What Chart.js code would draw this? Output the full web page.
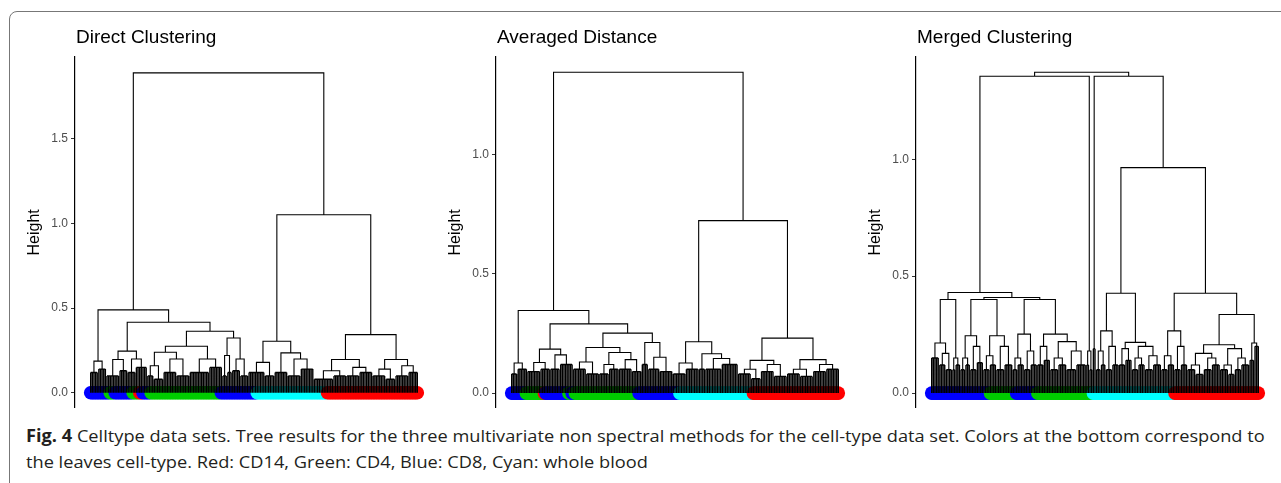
<!DOCTYPE html>
<html>
<head>
<meta charset="utf-8">
<script src="https://cdn.jsdelivr.net/npm/chart.js@4.4.1/dist/chart.umd.min.js"></script>
<style>
  body { margin:0; background:#fff; width:1281px; height:483px; overflow:hidden; position:relative; }
  #frame { position:absolute; left:9px; top:11px; width:1400px; height:600px; border:1px solid #777; border-radius:8px; }
  canvas { position:absolute; top:0; }
  .cap { position:absolute; left:26px; font-family:"Open Sans", sans-serif; font-size:17px; line-height:17px; color:#231f20; white-space:nowrap; transform-origin:0 0; }
</style>
</head>
<body>
<div id="frame"></div>
<canvas id="c1" width="417" height="418" style="left:15px"></canvas>
<canvas id="c2" width="417" height="418" style="left:436px"></canvas>
<canvas id="c3" width="417" height="418" style="left:856px"></canvas>
<div class="cap" id="cap1" style="top:427px"><b>Fig. 4</b> Celltype data sets. Tree results for the three multivariate non spectral methods for the cell-type data set. Colors at the bottom correspond to</div>
<div class="cap" id="cap2" style="top:453px">the leaves cell-type. Red: CD14, Green: CD4, Blue: CD8, Cyan: whole blood</div>
<script>
// trees: [height, left, right] is a merge, [height, n] is a small cluster of n leaves
let directTree = [1.89,
  [0.49,
    [0.187, [0.12,5], [0.14,5]],
    [0.417,
      [0.246, [0.197,[0.1,8],[0.13,5]], [0.2,[0.12,5],[0.15,7]]],
      [0.364,
        [0.275, [0.24,[0.16,[0.1,4],[0.08,6]],[0.2,[0.12,8],[0.1,8]]], [0.2,[0.12,12],[0.15,8]]],
        [0.324, [0.22,[0.1,3],[0.12,3]], [0.2,[0.13,5],[0.1,5]]]]]],
  [1.052,
    [0.305, [0.18,[0.12,10],[0.1,6]], [0.236,[0.12,8],[0.2,[0.1,8],[0.14,8]]]],
    [0.344,
      [0.197, [0.13,[0.08,12],[0.1,8]], [0.15,[0.1,8],[0.12,8]]],
      [0.197, [0.14,[0.1,8],[0.08,6]], [0.16,[0.1,8],[0.12,6]]]]]]

let averagedTree = [1.343,
  [0.346,
    [0.126, [0.08,4], [0.1,6]],
    [0.29,
      [0.184, [0.128,[0.09,8],[0.1,6]], [0.16,[0.1,6],[0.12,8]]],
      [0.251,
        [0.191, [0.13,[0.1,8],[0.08,8]], [0.17,[0.12,[0.08,6],[0.1,6]],[0.14,[0.1,8],[0.09,6]]]],
        [0.212, [0.12,4], [0.15,[0.1,7],[0.09,8]]]]]],
  [0.722,
    [0.215, [0.126,[0.08,8],[0.1,8]], [0.165,[0.1,4],[0.145,[0.1,10],[0.12,10]]]],
    [0.23,
      [0.137, [0.1,[0.08,8],[0.06,6]], [0.12,[0.09,8],[0.07,8]]],
      [0.14, [0.1,[0.08,8],[0.07,8]], [0.12,[0.09,8],[0.1,8]]]]]]

let mergedTree = [1.372,
  [1.355,
    [0.43,
      [0.40, [0.214,[0.15,5],[0.17,[0.12,4],[0.1,4]]], [0.15,[0.1,2],[0.12,3]]],
      [0.409,
        [0.40, [0.245,[0.15,[0.1,3],[0.12,3]],[0.2,[0.1,4],[0.13,4]]], [0.245,[0.16,[0.1,4],[0.12,4]],[0.2,[0.1,5],[0.12,5]]]],
        [0.40, [0.252,[0.15,[0.1,3],[0.12,4]],[0.18,[0.1,4],[0.12,4]]],
               [0.252,[0.2,[0.12,4],[0.14,4]],[0.22,[0.15,[0.1,5],[0.12,5]],[0.18,[0.1,6],[0.12,6]]]]]]],
    [0.18, [0.12,2], [0.1,2]]],
  [1.355,
    [0.19, 2],
    [0.964,
      [0.427, [0.266,[0.18,[0.1,3],[0.12,3]],[0.2,[0.1,4],[0.12,4]]],
              [0.217,[0.19,[0.12,4],[0.14,4]],[0.2,[0.15,[0.1,4],[0.12,4]],[0.16,[0.1,5],[0.12,5]]]]],
      [0.427, [0.266,[0.16,[0.1,4],[0.12,4]],[0.2,[0.1,4],[0.12,4]]],
              [0.336, [0.207,[0.17,[0.12,[0.1,5],[0.08,5]],[0.15,[0.1,5],[0.12,5]]],[0.19,[0.12,[0.1,5],[0.08,4]],[0.15,[0.1,4],[0.12,5]]]],
                      [0.214,[0.14,3],[0.2,3]]]]]]]

// leaf colours left to right, as runs
let directColors = [["blue",12],["green",3],["blue",11],["green",4],["red",2],["blue",5],["green",43],["blue",22],["cyan",43],["red",56]]
let averagedColors = [["blue",9],["green",11],["red",1],["blue",14],["green",2],["blue",2],["green",39],["blue",25],["cyan",45],["red",53]]
let mergedColors = [["blue",36],["green",16],["blue",13],["green",34],["cyan",50],["red",52]]

let directTicks = [0, 0.5, 1.0, 1.5]
let averagedTicks = [0, 0.5, 1.0]
let mergedTicks = [0, 0.5, 1.0]

let titles = ["Direct Clustering", "Averaged Distance", "Merged Clustering"]

let palette = { blue: "#0000ff", green: "#00cd00", red: "#ff0000", cyan: "#00ffff" }

Chart.defaults.font.family = '"Liberation Sans", Arial, sans-serif'

//walks the tree, puts the elbow lines in segs and returns the node position
function layout(node, state, segs){
  if(typeof node[1] === "number"){
    let h = node[0], n = node[1]
    let first = state.next
    for(let i = 0; i < n; i++){
      let x = state.next++
      segs.leaf.push({x:x, y:0}, {x:x, y:h}, {x:x, y:null})
    }
    let last = state.next - 1
    if(n > 1) segs.leaf.push({x:first, y:h}, {x:last, y:h}, {x:last, y:null})
    return {x:(first + last) / 2, h:h}
  }
  let a = layout(node[1], state, segs)
  let b = layout(node[2], state, segs)
  segs.tree.push({x:a.x, y:a.h}, {x:a.x, y:node[0]}, {x:b.x, y:node[0]}, {x:b.x, y:b.h}, {x:b.x, y:null})
  return {x:(a.x + b.x) / 2, h:node[0]}
}

let panelTitle = {
  id: "panelTitle",
  afterDraw(chart, args, opts){
    let ctx = chart.ctx
    ctx.save()
    ctx.font = '19px "Liberation Sans", Arial, sans-serif'
    ctx.fillStyle = "#000"
    ctx.textBaseline = "alphabetic"
    ctx.fillText(opts.text, chart.chartArea.left + 1, 43)
    ctx.restore()
  }
}

function drawPanel(id, tree, colors, ticks, title, ymin, ymax){
  let segs = {leaf: [], tree: []}
  layout(tree, {next:0}, segs)
  let leaves = [], cols = []
  let i = 0
  colors.forEach(run => {
    for(let k = 0; k < run[1]; k++){
      leaves.push({x:i++, y:0})
      cols.push(palette[run[0]])
    }
  })
  new Chart(document.getElementById(id), {
    type: "scatter",
    data: {
      datasets: [
        { data: segs.tree, showLine: true, spanGaps: false, borderColor: "#000", borderWidth: 1.1, pointRadius: 0, pointHoverRadius: 0 },
        { data: segs.leaf, showLine: true, spanGaps: false, borderColor: "#000", borderWidth: 1.4, pointRadius: 0, pointHoverRadius: 0 },
        { data: leaves, pointRadius: 6.8, pointBackgroundColor: cols, pointBorderWidth: 0, pointHoverRadius: 6.8 }
      ]
    },
    options: {
      responsive: false,
      animation: false,
      events: [],
      // no auto padding, the chart area has to land where the original axes are
      layout: { autoPadding: false, padding: { top: 57, bottom: 10, left: 0, right: 0 } },
      plugins: { legend: { display: false }, tooltip: { enabled: false }, panelTitle: { text: title } },
      scales: {
        x: { type: "linear", display: false, bounds: "data", min: -9.6, max: 209, ticks: { display: false } },
        y: {
          min: ymin, max: ymax,
          afterFit: s => { s.width = 60 },
          afterBuildTicks: s => { s.ticks = ticks.map(v => ({ value: v })) },
          ticks: { callback: v => v.toFixed(1), color: "#4d4d4d", font: { size: 12 }, padding: 3 },
          grid: { display: true, drawOnChartArea: false, drawTicks: true, tickLength: 4, color: "#333" },
          border: { display: true, color: "#000", width: 1.2 },
          title: { display: true, text: "Height", color: "#000", font: { size: 16 }, padding: { top: 10 } }
        }
      }
    },
    plugins: [panelTitle]
  })
}

drawPanel("c1", directTree, directColors, directTicks, titles[0], -0.0886, 1.984)
drawPanel("c2", averagedTree, averagedColors, averagedTicks, titles[1], -0.0615, 1.407)
drawPanel("c3", mergedTree, mergedColors, mergedTicks, titles[2], -0.0628, 1.437)

//squeeze the caption so it fills the line like the original
let cap1 = document.getElementById("cap1")
let cap2 = document.getElementById("cap2")
let k = 1239 / cap1.offsetWidth
cap1.style.transform = "scaleX(" + k + ")"
cap2.style.transform = "scaleX(" + k + ")"
</script>
</body>
</html>
